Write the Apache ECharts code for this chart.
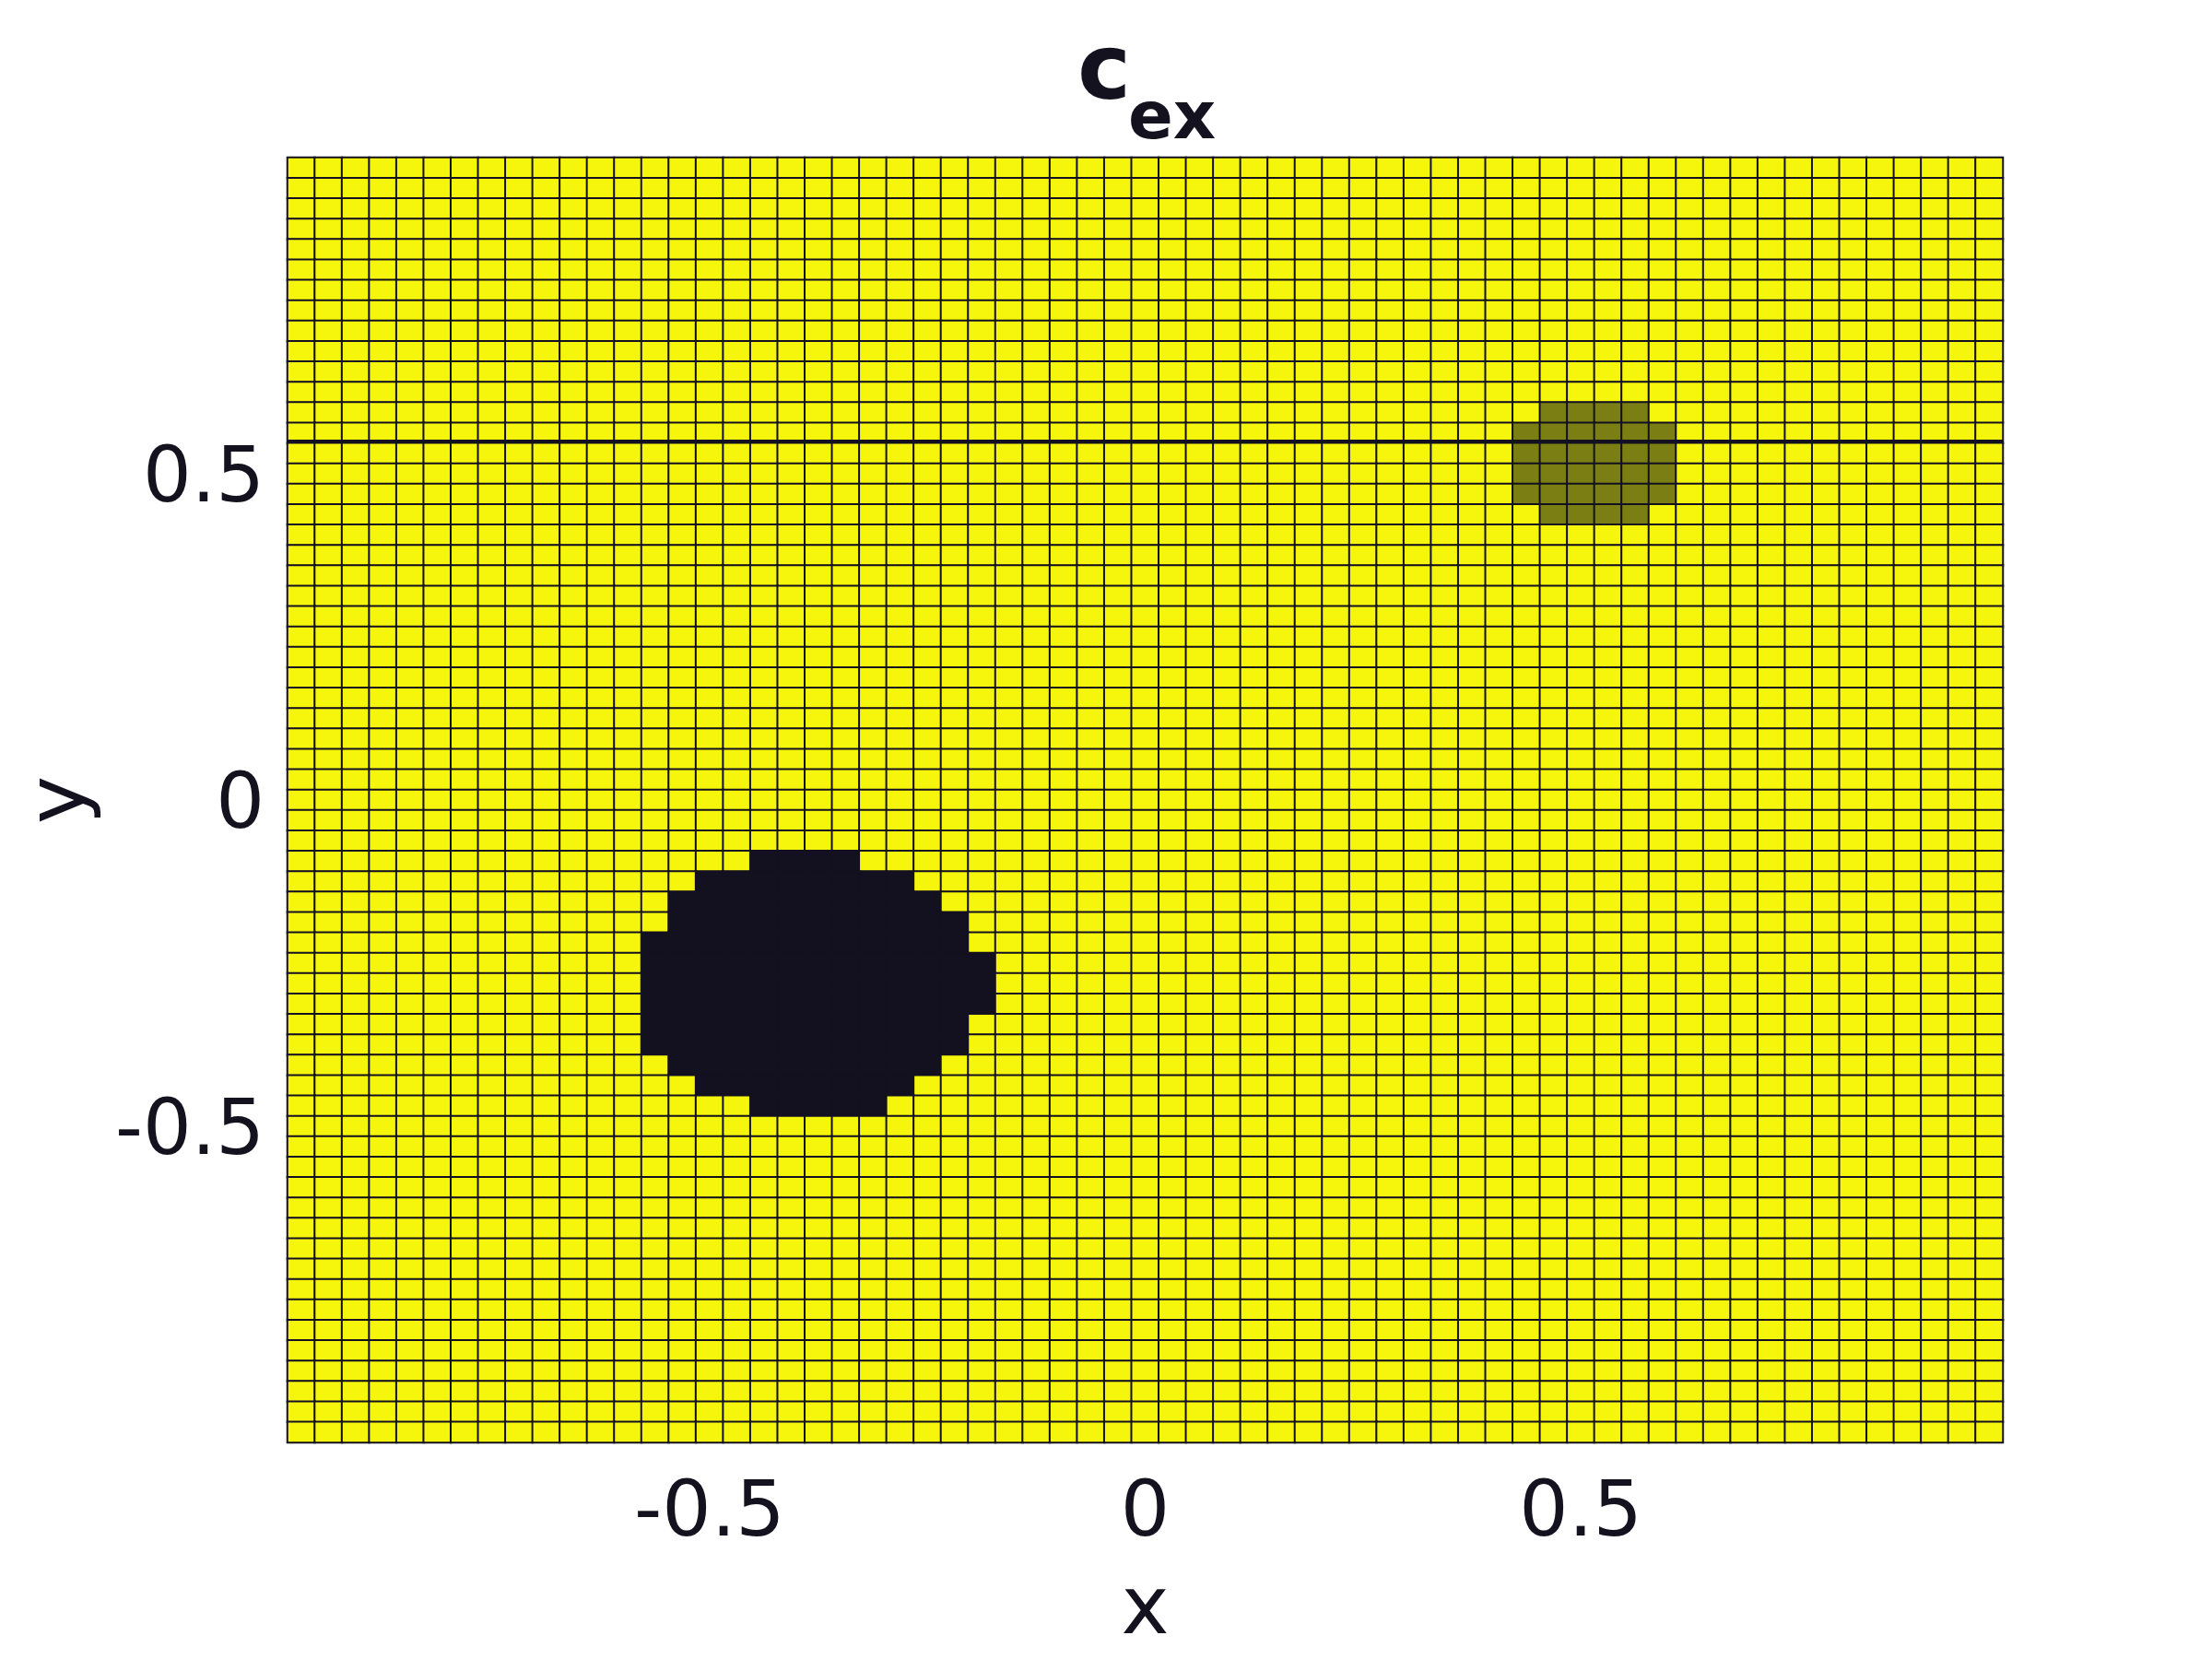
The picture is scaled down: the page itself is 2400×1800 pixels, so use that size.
<!DOCTYPE html>
<html>
<head>
<meta charset="utf-8">
<script src="https://cdn.jsdelivr.net/npm/echarts@6/dist/echarts.min.js"></script>
<style>
html,body{margin:0;padding:0;background:#fff;}
#chart{width:2400px;height:1800px;}
</style>
</head>
<body>
<div id="chart"></div>
<script>
// ---- data ----
const nCols = 63;                 // cells along x
const nRows = 63;                 // cells along y (row 0 = top)
const xEdge = [-63/64, 63/64];    // axis extent (cell edges)
const yEdge = [-63/64, 63/64];
const xTickValues = [-0.5, 0, 0.5];
const yTickValues = [-0.5, 0, 0.5];
const backgroundValue = 1;        // yellow
// dark blob (value 0): [row, firstCol, lastCol]
const darkRows = [
  [34, 17, 20], [35, 15, 22], [36, 14, 23], [37, 14, 24], [38, 13, 24],
  [39, 13, 25], [40, 13, 25], [41, 13, 25], [42, 13, 24], [43, 13, 24],
  [44, 14, 23], [45, 15, 22], [46, 17, 21]
];
const darkValue = 0;
// olive patch (value 0.5)
const oliveRows = [
  [12, 46, 49], [13, 45, 50], [14, 45, 50], [15, 45, 50], [16, 45, 50], [17, 46, 49]
];
const oliveValue = 0.5;
// thicker horizontal mesh line
const seamY = [35/64];

// ---- build table ----
const colCats = Array.from({length: nCols}, (_, i) => String(i));
const rowCats = Array.from({length: nRows}, (_, i) => String(i));
const grid = [];
for (let r = 0; r < nRows; r++) { grid.push(new Array(nCols).fill(backgroundValue)); }
darkRows.forEach(([r, a, b]) => { for (let c = a; c <= b; c++) grid[r][c] = darkValue; });
oliveRows.forEach(([r, a, b]) => { for (let c = a; c <= b; c++) grid[r][c] = oliveValue; });
const heatData = [];
for (let r = 0; r < nRows; r++) for (let c = 0; c < nCols; c++) heatData.push([c, r, grid[r][c]]);

const textColor = '#15121f';
const font = 'DejaVu Sans';

const chart = echarts.init(document.getElementById('chart'), null, {renderer: 'canvas'});
chart.setOption({
  animation: false,
  backgroundColor: '#ffffff',
  title: [
    {text: 'c', left: 1164, top: 28, textStyle: {fontFamily: font, fontWeight: 'bold', fontSize: 98, color: textColor}},
    {text: 'ex', left: 1219, top: 90, textStyle: {fontFamily: font, fontWeight: 'bold', fontSize: 72, color: textColor}}
  ],
  grid: {left: 312, right: 227, top: 171, bottom: 235, containLabel: false},
  visualMap: {
    show: false, type: 'piecewise', seriesIndex: 0, dimension: 2,
    pieces: [
      {value: darkValue, color: '#13111f'},
      {value: oliveValue, color: '#7b7e12'},
      {value: backgroundValue, color: '#f6f60c'}
    ]
  },
  xAxis: [
    {type: 'category', data: colCats, show: false, gridIndex: 0},
    {type: 'value', gridIndex: 0, min: xEdge[0], max: xEdge[1], position: 'bottom',
     axisLine: {show: false}, axisTick: {show: false}, splitLine: {show: false},
     axisLabel: {customValues: xTickValues, fontFamily: font, fontSize: 84, color: textColor, margin: 37},
     name: 'x', nameLocation: 'middle', nameGap: 140,
     nameTextStyle: {fontFamily: font, fontSize: 88, color: textColor}}
  ],
  yAxis: [
    {type: 'category', data: rowCats, show: false, inverse: true, gridIndex: 0},
    {type: 'value', gridIndex: 0, min: yEdge[0], max: yEdge[1], position: 'left',
     axisLine: {show: false}, axisTick: {show: false}, splitLine: {show: false},
     axisLabel: {customValues: yTickValues, fontFamily: font, fontSize: 83, color: textColor, margin: 25,
       verticalAlign: 'top', lineHeight: 16},
     name: 'y', nameLocation: 'middle', nameGap: 200,
     nameTextStyle: {fontFamily: font, fontSize: 88, color: textColor}}
  ],
  series: [
    {type: 'heatmap', xAxisIndex: 0, yAxisIndex: 0, data: heatData, progressive: 0,
     itemStyle: {borderColor: '#13111f', borderWidth: 2},
     emphasis: {disabled: true}},
    {type: 'line', xAxisIndex: 1, yAxisIndex: 1, data: [], silent: true,
     markLine: {silent: true, symbol: ['none', 'none'], label: {show: false},
       lineStyle: {color: '#13111f', width: 3, type: 'solid'},
       data: seamY.map(v => ({yAxis: v}))}}
  ]
});
</script>
</body>
</html>
